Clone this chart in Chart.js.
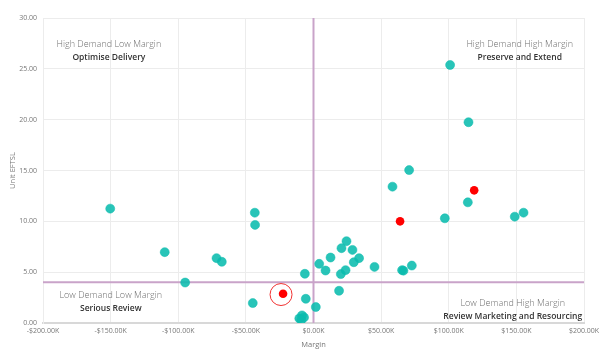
<!DOCTYPE html>
<html>
<head>
<meta charset="utf-8">
<script src="https://cdn.jsdelivr.net/npm/chart.js@4"></script>
<style>
html,body{margin:0;padding:0;background:#fff;}
#wrap{width:600px;height:356px;position:relative;}
</style>
</head>
<body>
<div id="wrap"><canvas id="c" width="600" height="356"></canvas></div>
<script>
// Margin in $K, Unit EFTSL
const tealMargin = [-150.3,-110,-71.7,-67.8,-94.9,-43.4,-43.2,-44.9,-6.4,-5.7,1.7,-10.5,-8.5,-7,-9,4.2,8.9,12.6,20.7,24.4,28.8,29.8,33.7,20.2,23.7,18.9,45.1,65.5,66.5,72.7,101,114.6,70.7,58.4,114.1,97.1,148.8,155.3];
const tealUnits  = [11.25,6.97,6.38,6.02,3.98,10.85,9.65,1.96,4.84,2.38,1.57,0.45,0.75,0.55,0.3,5.82,5.16,6.44,7.36,8.05,7.19,5.98,6.38,4.81,5.2,3.17,5.52,5.2,5.15,5.65,25.38,19.75,15.04,13.41,11.87,10.3,10.46,10.85];
const redMargin = [-22.5,64.0,118.8];
const redUnits  = [2.88,10.0,13.05];
const highlightMargin = [-24];
const highlightUnits = [2.8];
const marginRef = 0;   // vertical reference line
const unitsRef = 4;    // horizontal reference line
const xTicks = [-200,-150,-100,-50,0,50,100,150,200];
const yTicks = [0,5,10,15,20,25,30];
const quadrants = [
  {x:-151.3, y:27.4, title:'High Demand Low Margin', sub:'Optimise Delivery'},
  {x:152.5, y:27.4, title:'High Demand High Margin', sub:'Preserve and Extend'},
  {x:-149.9, y:2.68, title:'Low Demand Low Margin', sub:'Serious Review'},
  {x:147.3, y:1.89, title:'Low Demand High Margin', sub:'Review Marketing and Resourcing'}
];

const zip = (a,b) => a.map((v,i)=>({x:v,y:b[i]}));
const FONT = "'Open Sans', 'Noto Sans', sans-serif";

const quadPlugin = {
  id:'quad',
  afterDatasetsDraw(chart){
    const {ctx, scales:{x,y}} = chart;
    ctx.save();
    ctx.textAlign='center';
    ctx.textBaseline='middle';
    quadrants.forEach(q=>{
      const px = x.getPixelForValue(q.x), py = y.getPixelForValue(q.y);
      ctx.fillStyle='#707070';
      ctx.font = "300 9px " + FONT;
      ctx.fillText(q.title, px, py);
      ctx.fillStyle='#333333';
      ctx.font = "600 8.5px " + FONT;
      ctx.fillText(q.sub, px, py+13);
    });
    ctx.restore();
  }
};

new Chart(document.getElementById('c'), {
  type:'scatter',
  data:{
    datasets:[
      {label:'hline', data:[{x:xTicks[0],y:unitsRef},{x:xTicks[xTicks.length-1],y:unitsRef}], showLine:true, borderColor:'#c9a3c9', borderWidth:2, pointRadius:0, order:5},
      {label:'vline', data:[{x:marginRef,y:yTicks[0]},{x:marginRef,y:yTicks[yTicks.length-1]}], showLine:true, borderColor:'#c9a3c9', borderWidth:2, pointRadius:0, order:5},
      {label:'teal', data:zip(tealMargin,tealUnits), backgroundColor:'rgba(10,188,174,0.88)', borderColor:'rgba(10,188,174,0.5)', borderWidth:1, pointRadius:4.5, order:2},
      {label:'red', data:zip(redMargin,redUnits), backgroundColor:'#ff0000', borderColor:'#ff0000', borderWidth:0, pointRadius:4.3, order:1},
      {label:'highlight', data:zip(highlightMargin,highlightUnits), backgroundColor:'rgba(0,0,0,0)', borderColor:'#f03030', borderWidth:1, pointRadius:11, order:0}
    ]
  },
  options:{
    responsive:false,
    animation:false,
    devicePixelRatio:1,
    layout:{padding:{top:18, right:16, left:0, bottom:0}},
    plugins:{legend:{display:false}, tooltip:{enabled:false}},
    scales:{
      x:{
        type:'linear', min:-200, max:200,
        afterBuildTicks(s){ s.ticks = xTicks.map(v=>({value:v})); },
        afterFit(s){ s.height = 33; s.paddingLeft = 0; s.paddingRight = 0; },
        grid:{color:'#ececec', drawTicks:false, lineWidth:1},
        border:{color:'#d8d8d8', width:2},
        ticks:{padding:4, color:'#777', font:{family:FONT, size:7}, maxRotation:0, autoSkip:false,
          callback:(v)=> (v<0?'-':'') + '$' + Math.abs(v).toFixed(2) + 'K'},
        title:{display:true, text:'Margin', color:'#777', font:{family:FONT, size:7.5}, padding:{top:2,bottom:7}}
      },
      y:{
        type:'linear', min:0, max:30,
        afterBuildTicks(s){ s.ticks = yTicks.map(v=>({value:v})); },
        afterFit(s){ s.width = 43; s.paddingTop = 0; s.paddingBottom = 0; },
        grid:{color:'#ececec', drawTicks:false, lineWidth:1},
        border:{color:'#ececec', width:1},
        ticks:{padding:6, color:'#777', font:{family:FONT, size:7}, autoSkip:false,
          callback:(v)=> v.toFixed(2)},
        title:{display:true, text:'Unit EFTSL', color:'#777', font:{family:FONT, size:7.5}, padding:{top:8,bottom:0}}
      }
    }
  },
  plugins:[quadPlugin]
});
</script>
</body>
</html>
